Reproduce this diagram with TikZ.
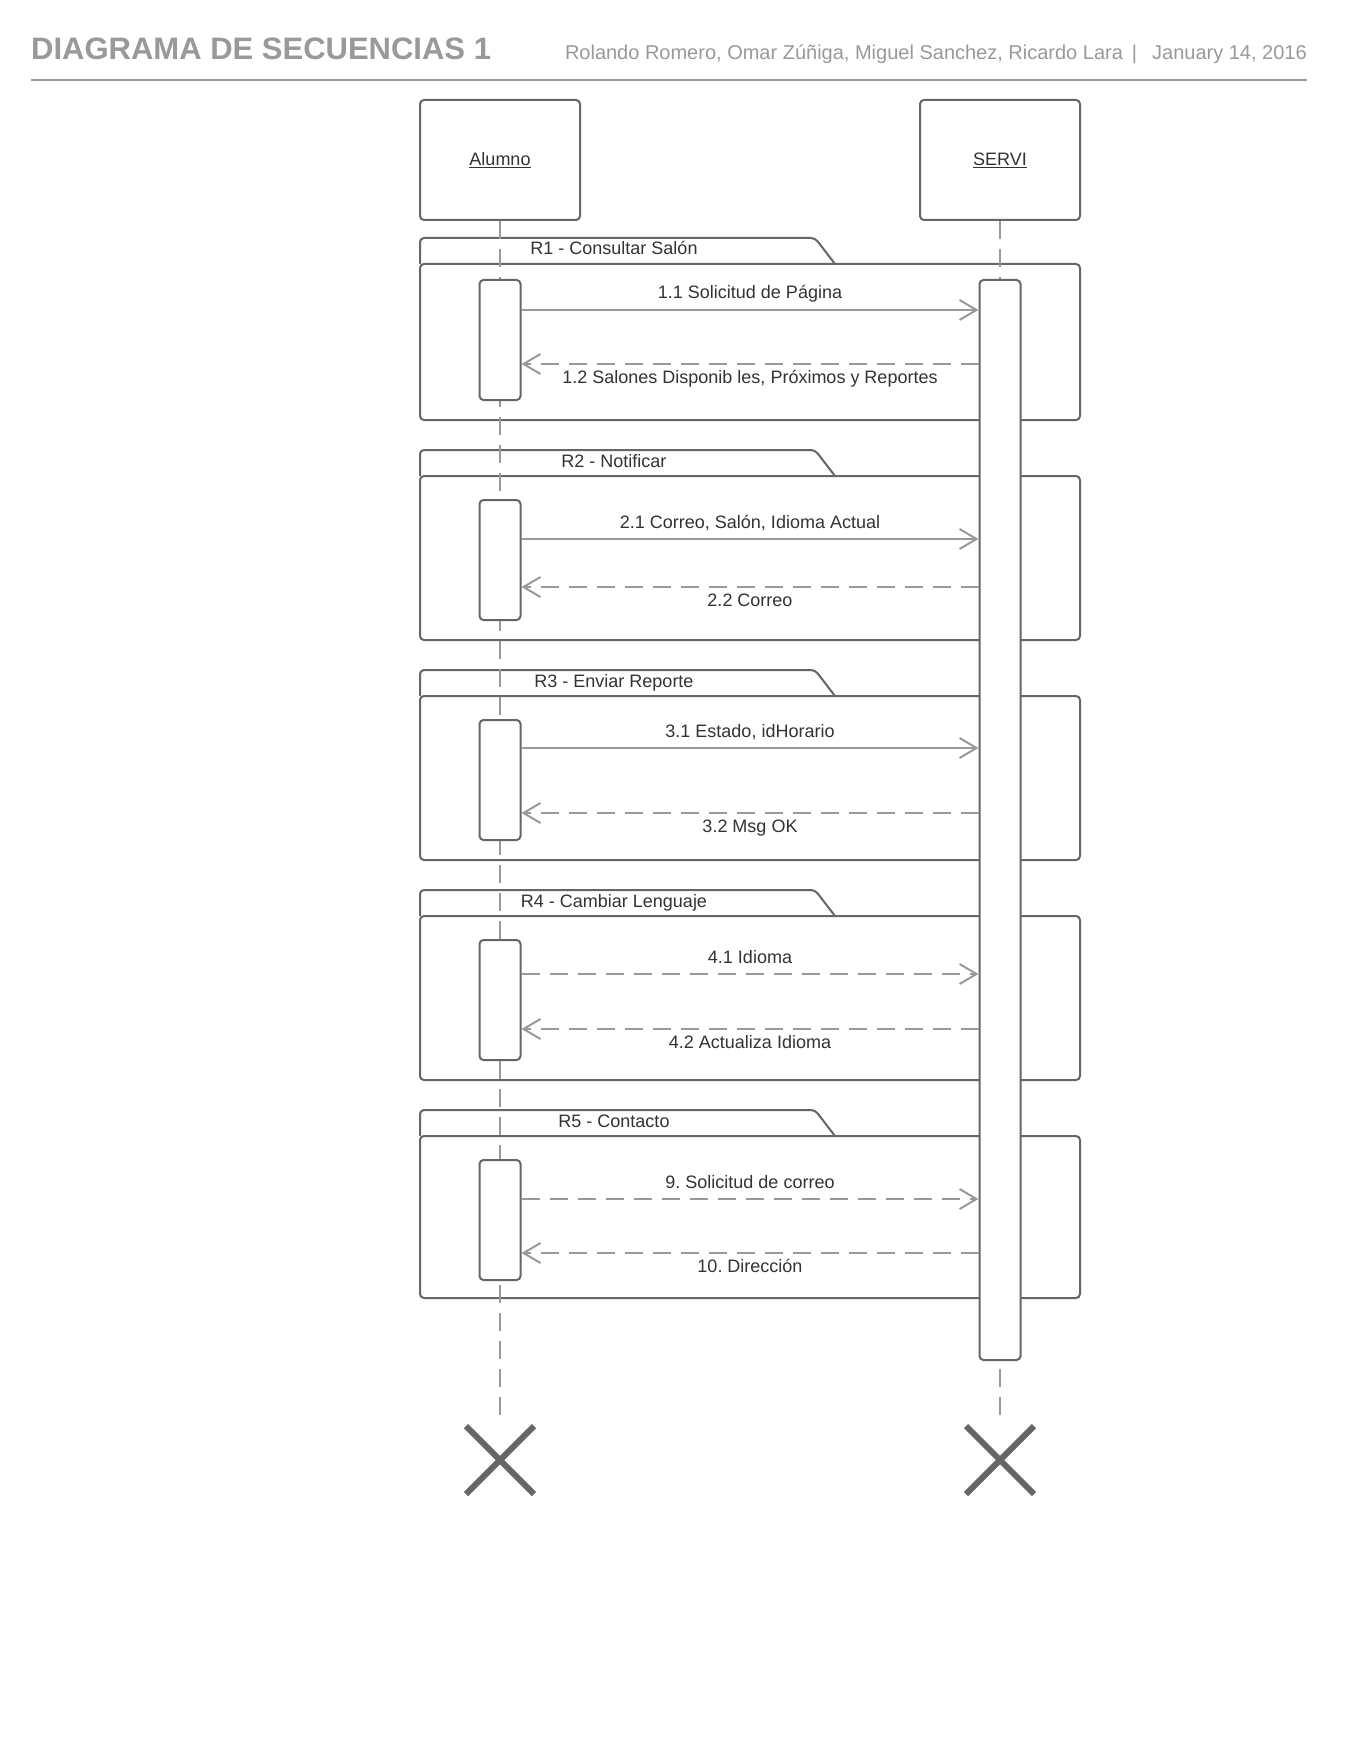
\documentclass[tikz,border=0pt]{standalone}
\usepackage{fontspec}
\setmainfont{Liberation Sans}
\usepackage{tikz}
\usetikzlibrary{arrows.meta, positioning, shapes.misc}
\frenchspacing
\definecolor{boxgray}{RGB}{102,102,102}
\definecolor{linegray}{RGB}{153,153,153}
\definecolor{txtgray}{RGB}{51,51,51}
\definecolor{hdrgray}{RGB}{153,153,153}
\tikzset{
  actor/.style={rectangle, draw=boxgray, fill=white, minimum width=160pt,
    minimum height=120pt, rounded corners=4pt, line width=2pt,
    font=\fontsize{18}{22}\selectfont, text=txtgray},
  actbar/.style={rectangle, draw=boxgray, fill=white, minimum width=41pt,
    rounded corners=4pt, line width=2pt},
  fragbox/.style={draw=boxgray, line width=2pt, rounded corners=4pt},
  lifeline/.style={draw=linegray, line width=2pt, dash pattern=on 18pt off 10pt},
  msg/.style={draw=linegray, line width=2pt, -{Straight Barb[length=17pt, width=20pt]}},
  reply/.style={msg, dash pattern=on 18pt off 10pt},
  lbl/.style={font=\fontsize{18}{22}\selectfont, text=txtgray, anchor=base},
  endmark/.style={cross out, draw=boxgray, line width=6pt, minimum size=62pt, inner sep=0pt}
}

\begin{document}
\begin{tikzpicture}[x=1pt, y=-1pt]
  \fill[white] (0,0) rectangle (1360,1760);
  \useasboundingbox (0,0) rectangle (1360,1760);
  % header
  \node[anchor=base west, inner sep=0pt, text=hdrgray,
        font=\fontsize{31}{37}\selectfont\bfseries] (title) at (31,60) {DIAGRAMA DE SECUENCIAS 1};
  \node[anchor=base east, inner sep=0pt, text=hdrgray,
        font=\fontsize{20}{24}\selectfont] (authors) at (1307,60)
        {Rolando Romero, Omar Zúñiga, Miguel Sanchez, Ricardo Lara\hspace{9pt}|\hspace{15pt}January 14, 2016};
  \draw[hdrgray, line width=2pt] (title.west |- 0,80) -- (authors.east |- 0,80);
  % fragments
  \foreach \ttop/\fbot/\name in {238/420/{R1 - Consultar Salón}, 450/640/{R2 - Notificar},
      670/860/{R3 - Enviar Reporte}, 890/1080/{R4 - Cambiar Lenguaje}, 1110/1298/{R5 - Contacto}} {
    \draw[fragbox] (420,\ttop+26) rectangle (1080,\fbot);
    \draw[fragbox] (420,\ttop+26) -- (420,\ttop) -- (815,\ttop) -- (835,\ttop+26);
    \node[lbl] at (614,\ttop+17) {\name};
  }
  % lifelines
  \node[actor] (alumno) at (500,160) {\underline{Alumno}};
  \node[actor] (servi) at (1000,160) {\underline{SERVI}};
  \node[endmark] (xalumno) at (500,1460) {};
  \node[endmark] (xservi) at (1000,1460) {};
  \draw[lifeline] (alumno.south) -- ([yshift=3pt]xalumno.north);
  \draw[lifeline] (servi.south) -- ([yshift=3pt]xservi.north);
  % activations
  \node[actbar, minimum height=1080pt] (sact) at (1000,820) {};
  \foreach \i/\yc in {1/340, 2/560, 3/780, 4/1000, 5/1220}
    \node[actbar, minimum height=120pt] (act\i) at (500,\yc) {};
  % messages
  \foreach \i/\ya/\yb/\fwd/\la/\lb in {
      1/310/364/msg/{1.1 Solicitud de Página}/{1.2 Salones Disponib les, Próximos y Reportes},
      2/539/587/msg/{2.1 Correo, Salón, Idioma Actual}/{2.2 Correo},
      3/748/813/msg/{3.1 Estado, idHorario}/{3.2 Msg OK},
      4/974/1029/reply/{4.1 Idioma}/{4.2 Actualiza Idioma},
      5/1199/1253/reply/{9. Solicitud de correo}/{10. Dirección}} {
    \draw[\fwd] (act\i.east |- 0,\ya) -- node[lbl, yshift=11pt] {\la} (sact.west |- 0,\ya);
    \draw[reply] (sact.west |- 0,\yb) -- node[lbl, yshift=-19pt] {\lb} (act\i.east |- 0,\yb);
  }
\end{tikzpicture}
\end{document}
